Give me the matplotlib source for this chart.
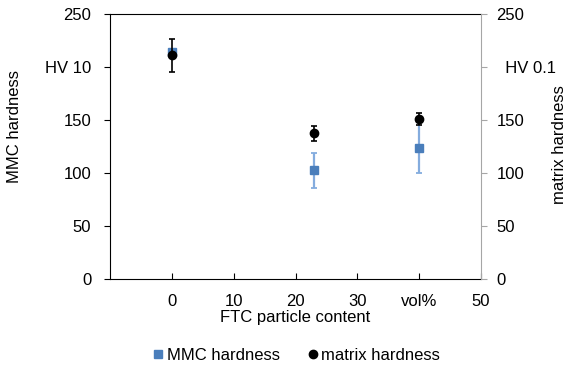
import matplotlib
matplotlib.use('Agg')

import numpy as np
import matplotlib.pyplot as plt

plt.rcParams['font.family'] = ['Liberation Sans', 'DejaVu Sans']
plt.rcParams['font.size'] = 12

# data
content = [0, 23, 40]
mmc = [214, 103, 124]
mmc_lo = [214, 86, 100]
mmc_hi = [214, 119, 148]
matrix = [211, 138, 151]
matrix_lo = [195, 130, 145]
matrix_hi = [226, 144, 157]

xticks = [0, 10, 20, 30, 40, 50]
xticklabels = ['0', '10', '20', '30', 'vol%', '50']
yticks = [0, 50, 100, 150, 200, 250]
left_labels = ['0', '50', '100', '150', 'HV 10', '250']
right_labels = ['0', '50', '100', '150', '  HV 0.1', '250']

blue = '#4a7ebb'
grey = '#a6a6a6'

fig = plt.figure(figsize=(5.73, 3.68), dpi=100)
ax = fig.add_axes([110/573, 1 - 279/368, 371/573, 265/368])
ax2 = ax.twinx()

# MMC hardness (left axis)
mmc_err = [np.array(mmc) - np.array(mmc_lo), np.array(mmc_hi) - np.array(mmc)]
ax.errorbar(content, mmc, yerr=mmc_err, fmt='none', ecolor='#84acde',
            elinewidth=1.6, capsize=2.5, capthick=1.3, zorder=2)
ax.plot(content, mmc, 's', color=blue, markersize=6, zorder=3, label='MMC hardness')

# matrix hardness (right axis)
mat_err = [np.array(matrix) - np.array(matrix_lo), np.array(matrix_hi) - np.array(matrix)]
ax2.errorbar(content, matrix, yerr=mat_err, fmt='none', ecolor='black',
             elinewidth=1.2, capsize=2.5, capthick=1.2, zorder=4)
ax2.plot(content, matrix, 'o', color='black', markersize=6, zorder=5, label='matrix hardness')

for a in (ax, ax2):
    a.set_xlim(-10, 50)
    a.set_ylim(0, 250)
    a.set_yticks(yticks)

ax.set_yticklabels(left_labels)
ax2.set_yticklabels(right_labels)
ax.set_xticks(xticks)
ax.set_xticklabels(xticklabels)

ax.tick_params(axis='x', direction='in', length=4, pad=11)
ax.tick_params(axis='y', direction='out', length=4, pad=9.5)
ax2.tick_params(axis='y', direction='out', length=4, pad=7, color=grey)

ax.spines['right'].set_visible(False)
ax2.spines['right'].set_color(grey)
for s in ('left', 'top', 'bottom'):
    ax2.spines[s].set_visible(False)

ax.set_xlabel('FTC particle content', va='top')
ax.xaxis.set_label_coords(0.5, -0.117)

# axis titles placed where the reference has them
fig.text(15/573, 1 - 126/368, 'MMC hardness', rotation=90,
         ha='center', va='center')
fig.text(560/573, 1 - 145/368, 'matrix hardness', rotation=90,
         ha='center', va='center')

h1, l1 = ax.get_legend_handles_labels()
h2, l2 = ax2.get_legend_handles_labels()
fig.legend(h1 + h2, l1 + l2, loc='center', bbox_to_anchor=(296/573, 1 - 355/368),
           ncol=2, frameon=False, handletextpad=0.1, columnspacing=1.6,
           handlelength=0.8, markerscale=1.0)

plt.savefig('out.png', dpi=100)
